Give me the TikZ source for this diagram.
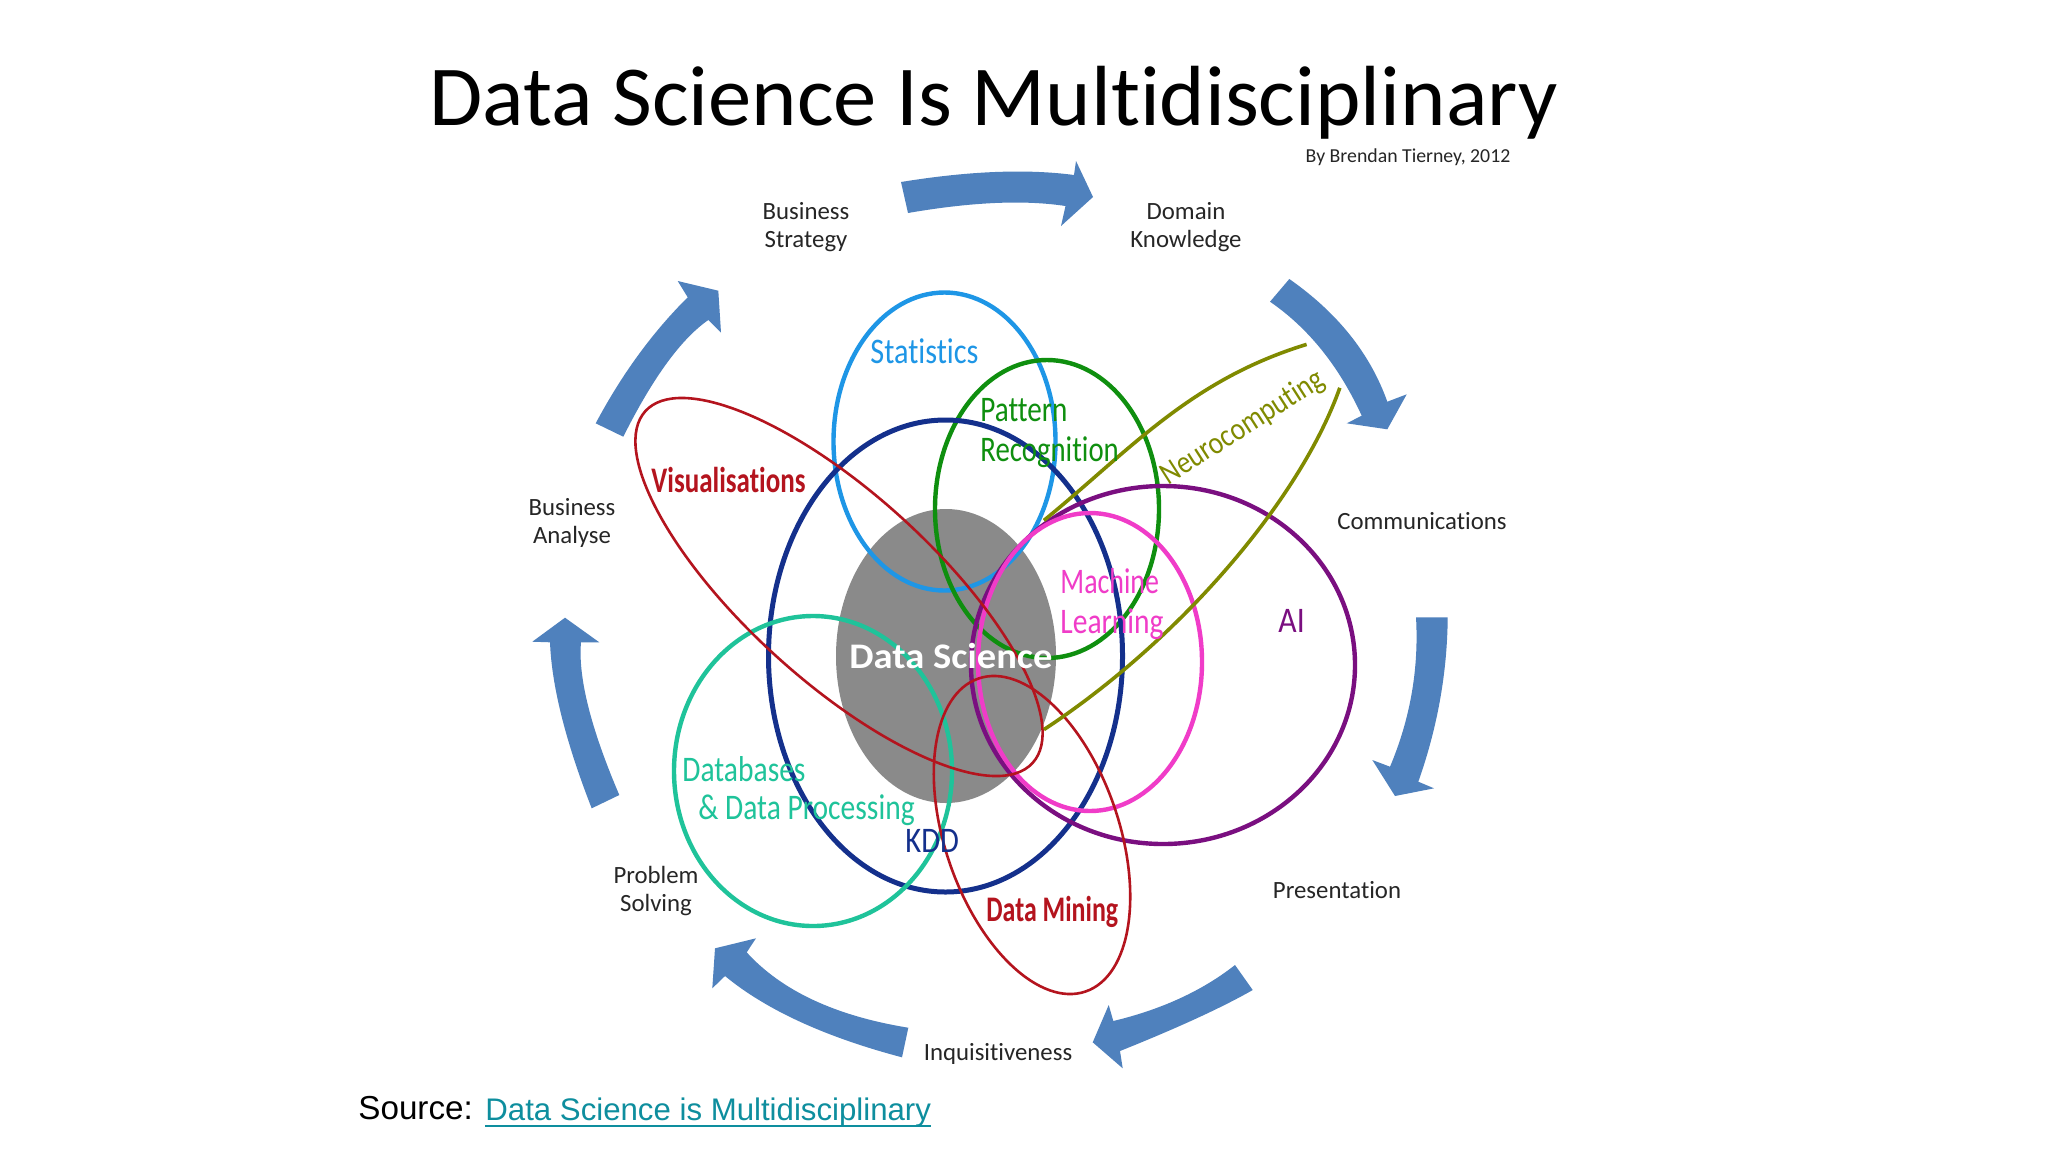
\documentclass[tikz,border=0pt]{standalone}
\usepackage{fontspec}
\setmainfont[Ligatures=NoCommon]{Carlito}
\newfontfamily\srcfont{Liberation Sans}
\usetikzlibrary{calc}
\definecolor{arrowblue}{HTML}{4F81BD}
\definecolor{cgray}{HTML}{8A8A8A}
\definecolor{cstat}{HTML}{1E96E6}
\definecolor{cpat}{HTML}{0F8F0F}
\definecolor{ckdd}{HTML}{14308C}
\definecolor{cdb}{HTML}{1FC39A}
\definecolor{cai}{HTML}{7A0F80}
\definecolor{cml}{HTML}{F03CC8}
\definecolor{cred}{HTML}{B4141E}
\definecolor{colive}{HTML}{808A00}
\definecolor{clink}{HTML}{0E8E9E}
\newcommand{\barrow}[9]{\fill[arrowblue] (#1) .. controls ($1.3333*(#2)-.3333*(#3)$) and ($1.3333*(#2)-.3333*(#1)$) .. (#3) -- (#4) -- (#5) -- (#6) -- (#7) .. controls ($1.3333*(#8)-.3333*(#9)$) and ($1.3333*(#8)-.3333*(#7)$) .. (#9) -- cycle;}
\newcommand{\sx}[2]{\scalebox{#1}[1]{#2}}
\tikzset{
  ring/.style={line width=2.2pt},
  thinring/.style={line width=1.3pt,cred},
  lbl/.style={inner sep=0pt,anchor=center,align=center,text=black!85,font=\fontsize{12.4}{14}\selectfont},
  colr/.style={inner sep=0pt,anchor=base west,font=\fontsize{18}{20}\selectfont},
  colb/.style={inner sep=0pt,anchor=base west,font=\fontsize{18}{20}\selectfont\bfseries},
}
\begin{document}
\begin{tikzpicture}[x=.5pt,y=-.5pt]
\useasboundingbox (0,0) rectangle (2048,1152);
\fill[white] (0,0) rectangle (2048,1152);
% title
\node[inner sep=0pt,anchor=base west,text=black,font=\fontsize{42.7}{48}\selectfont] (title) at (429,125) {\sx{1.014}{Data Science Is Multidisciplinary}};
\node[inner sep=0pt,anchor=base,text=black!85,font=\fontsize{9.9}{11}\selectfont] (author) at (1408,162) {By Brendan Tierney, 2012};
% arrows
\barrow{901,182}{995,172}{1074,175}{1076,161}{1093,197}{1061,226}{1065.5,206}{995,203}{908,213}
\barrow{1289.3,279}{1350,335}{1387.3,401.7}{1406.7,394.3}{1387.3,429.3}{1346.7,423.3}{1361.7,415.7}{1321.7,350}{1270,301.7}
\barrow{1447.7,617.3}{1440,700}{1418.3,781.7}{1434,788.3}{1395,796}{1372.3,760}{1390,766.7}{1411.7,693.3}{1416,617.3}
\barrow{1252.7,990}{1196.7,1018.3}{1120,1051}{1122.7,1068.3}{1092.7,1042.3}{1108.7,1005}{1113.3,1021}{1180,998.3}{1235,965}
\barrow{902,1057.3}{800,1021.7}{725,976}{712.3,988.3}{715,948.3}{756,938.3}{746.7,952.3}{813.3,1000}{908.3,1027.7}
\barrow{591.7,808.3}{561.7,716.7}{550,642.3}{532.3,641.7}{565,617.7}{599.3,642.3}{581,642.3}{588.3,706.7}{619.3,795}
\barrow{595.7,423.3}{638.3,355}{687.7,297.3}{677.7,281}{718.3,290.7}{721,332.7}{708.3,320}{666.7,363.3}{623.3,436.7}
% outer labels
\node[lbl] (strategy) at (806,227) {Business\\Strategy};
\node[lbl] (domain) at (1186,227) {Domain\\Knowledge};
\node[lbl] (comm) at (1422,521) {Communications};
\node[lbl] (pres) at (1337,890) {Presentation};
\node[lbl] (inq) at (998,1054) {Inquisitiveness};
\node[lbl] (prob) at (656,891) {Problem\\Solving};
\node[lbl] (analyse) at (572,523) {Business\\Analyse};
% central disc
\fill[cgray] (946,656) ellipse [x radius=110,y radius=147];
% rings
\draw[ring,cstat] (944.5,441.5) ellipse [x radius=111,y radius=149];
\draw[ring,cpat] (1047,509) ellipse [x radius=112,y radius=149];
\draw[ring,line width=2.5pt,ckdd] (945.5,656) ellipse [x radius=177,y radius=236];
\draw[ring,cdb] (813,771) ellipse [x radius=139,y radius=155];
\draw[ring,cai] (1163,665) ellipse [x radius=192,y radius=179];
\draw[ring,cml] (1090,662) ellipse [x radius=112,y radius=149];
\draw[thinring,rotate around={-42.25:(839,587)}] (839,587) ellipse [x radius=261.6,y radius=93.4];
\draw[thinring,rotate around={-71.1:(1032,835)}] (1032,835) ellipse [x radius=165.4,y radius=87];
\draw[ring,line width=1.8pt,colive] (1043.9,520.4) .. controls (1130,450) and (1190,380) .. (1306.6,344.4);
\draw[ring,line width=1.8pt,colive] (1043.9,729.6) .. controls (1180,640) and (1300,500) .. (1339.8,387.8);
% ring labels
\node[colr,text=cstat] (stat) at (870,363) {\sx{.84}{Statistics}};
\node[colr,text=cpat] (pat) at (980,421) {\sx{.81}{Pattern}};
\node[colr,text=cpat] (rec) at (980,461) {\sx{.8}{Recognition}};
\node[inner sep=0pt,text=colive,rotate=32.6,font=\fontsize{16}{18}\selectfont] (neuro) at (1243,428) {\sx{.85}{Neurocomputing}};
\node[colb,text=cred] (vis) at (651,492) {\sx{.75}{Visualisations}};
\node[colr,text=cml] (mach) at (1060,593) {\sx{.775}{Machine}};
\node[colr,text=cml] (learn) at (1060,633) {\sx{.82}{Learning}};
\node[colr,text=cai] (ai) at (1278,632) {\sx{.88}{AI}};
\node[colb,text=white] (ds) at (849,668) {\sx{1.07}{Data Science}};
\node[colr,text=cdb] (db) at (682,781) {\sx{.82}{Databases}};
\node[colr,text=cdb] (dp) at (698,819) {\sx{.82}{\& Data Processing}};
\node[colr,text=ckdd] (kdd) at (905,852) {\sx{.85}{KDD}};
\node[colb,text=cred] (dm) at (986,921) {\sx{.72}{Data Mining}};
% source
\node[inner sep=0pt,anchor=base west,text=black,font=\fontsize{16.6}{19}\selectfont\srcfont] (src) at (358,1119) {Source:};
\node[inner sep=0pt,anchor=base west,text=clink,font=\fontsize{15.6}{18}\selectfont\srcfont] (link) at (485,1120) {Data Science is Multidisciplinary};
\draw[clink,line width=1.4pt] ($(link.base west)+(0,6)$) -- ($(link.base east)+(0,6)$);
\end{tikzpicture}
\end{document}
